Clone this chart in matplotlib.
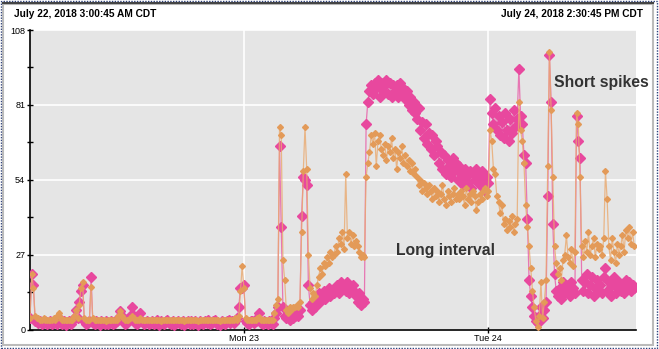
import numpy as np
import pandas as pd
import matplotlib
matplotlib.use("Agg")
import matplotlib.pyplot as plt
import matplotlib.dates as mdates
from matplotlib.patches import Rectangle

plt.rcParams['font.family'] = ['Liberation Sans', 'DejaVu Sans']

start = "2018-07-22 03:00:45"
end = "2018-07-24 14:30:45"
n_samples = 357  # one sample every 10 minutes

# long-interval series (pink), 12 samples = 2 hours per row
long_vals = [
    4, 20, 16, 3, 3.5, 2.5, 3, 2, 2.5, 3, 2, 2.5,
    3, 2, 2.5, 3, 2, 4, 2.5, 2, 3, 1.5, 2.5, 3,
    2, 3, 4, 7, 4, 10, 14, 16, 3, 2, 2.5, 3,
    19, 2.5, 2, 3, 2.5, 1.5, 3, 2.5, 2, 3, 2, 2.5,
    3, 2, 2.5, 3, 4, 6.5, 5, 3, 2, 2.5, 3, 5,
    8, 5, 2.5, 2, 3, 6, 3, 2, 2.5, 3, 2, 2.5,
    3, 2, 2.5, 3.5, 1.5, 3, 2.5, 2, 3, 3.5, 2.5, 2,
    3, 1.5, 2.5, 3, 2.5, 2, 3, 1.5, 2.5, 3, 2, 3,
    2, 3, 2.5, 1.5, 3, 2.5, 2, 3, 2.5, 3.5, 2, 2.5,
    3, 3.5, 2, 2.5, 1.5, 3, 2.5, 2, 3, 3.5, 2.5, 3,
    2.5, 3, 4, 8, 15, 15, 16, 3, 2.5, 2, 3, 3,
    2.5, 3, 4, 6, 2.5, 2, 3, 2.5, 2, 3, 2.5, 2,
    4, 6, 8, 66, 37, 8, 5, 4, 5, 3.5, 6, 4,
    5, 6, 5, 7, 41, 55, 54, 52, 16, 9, 7, 10,
    8, 11, 13, 10, 12, 14, 11, 13, 15, 12, 14, 13,
    15, 16, 13, 17, 15, 16, 14, 17, 13, 15, 16, 14,
    12, 10, 13, 9, 11, 10, 74, 82, 86, 88, 85, 89,
    87, 90, 84, 89, 86, 88, 90, 85, 89, 84, 88, 86,
    88, 84, 89, 85, 87, 83, 86, 81, 84, 79, 82, 78,
    76, 80, 72, 75, 69, 74, 67, 71, 65, 70, 63, 68,
    66, 60, 64, 58, 63, 56, 61, 59, 55, 62, 57, 60,
    54, 59, 56, 52, 58, 55, 53, 57, 51, 56, 54, 58,
    55, 52, 57, 54, 50, 55, 53, 83, 78, 74, 80, 72,
    77, 70, 75, 69, 78, 72, 68, 76, 71, 79, 73, 76,
    94, 77, 74, 63, 60, 40, 18, 12, 8, 5, 3, 2.5,
    5, 8, 4, 7, 10, 48, 99, 82, 38, 20, 14, 12,
    15, 11, 17, 13, 16, 14, 12, 17, 15, 13, 77, 68,
    62, 18, 14, 17, 20, 13, 16, 19, 12, 15, 18, 14,
    16, 13, 19, 22, 14, 17, 12, 16, 19, 13, 15, 17,
    14, 16, 13, 18, 15, 17, 14, 16, 15,
]

# short-spike series (orange)
spike_vals = [
    4, 20, 15, 5, 4, 4, 3.5, 3.5, 4, 3.5, 3.5, 3.5,
    3.5, 3.5, 4, 3.5, 5, 6, 4, 3.5, 3.5, 3.5, 3.5, 3.5,
    3.5, 3.5, 5, 7, 4, 9, 15, 17, 4, 3.5, 3.5, 3.5,
    15.5, 4, 3.5, 3.5, 3.5, 3.5, 3.5, 3.5, 3.5, 3, 3.5, 3.5,
    3.5, 3.5, 3.5, 3.5, 5, 6.5, 5, 4, 3.5, 3.5, 3.5, 4,
    5, 4, 3.5, 3.5, 3.5, 4, 3.5, 3.5, 3.5, 3.5, 3.5, 3.5,
    3.5, 3.5, 3.5, 3.5, 3.5, 3, 3.5, 3.5, 3.5, 3.5, 3.5, 3.5,
    3.5, 3.5, 3.5, 3.5, 3.5, 3.5, 3.5, 3, 3.5, 3.5, 3.5, 3.5,
    3.5, 3.5, 3.5, 3, 3.5, 3.5, 3.5, 3.5, 3.5, 3.5, 3.5, 3.5,
    3.5, 3.5, 3.5, 3.5, 3, 3.5, 3.5, 3.5, 3.5, 3.5, 3.5, 3.5,
    3.5, 4, 3.5, 5, 14, 23, 15, 4, 3.5, 3.5, 3.5, 3.5,
    3.5, 3.5, 4, 4.5, 3.5, 3.5, 3.5, 3.5, 3.5, 3.5, 3.5, 3.5,
    6, 9, 11, 73, 70, 25, 18, 7, 6, 8, 7, 8,
    8, 9, 8, 10, 35, 57, 73, 58, 27, 15, 11, 13,
    12, 16, 19, 22, 20, 24, 23, 26, 24, 28, 26, 27,
    30, 28, 33, 31, 35, 29, 56, 33, 35, 31, 34, 30,
    32, 30, 28, 26, 27, 26, 55, 60, 64, 70, 67, 71,
    59, 68, 70, 65, 63, 67, 61, 66, 64, 69, 62, 65,
    58, 64, 62, 66, 60, 63, 59, 61, 57, 60, 56, 58,
    55, 52, 54, 50, 53, 51, 49, 52, 50, 47, 51, 48,
    50, 46, 49, 52, 47, 45, 50, 48, 46, 49, 51, 47,
    49, 47, 50, 48, 45, 51, 47, 49, 46, 50, 48, 43,
    46, 49, 47, 50, 51, 48, 50, 72, 68, 58, 56, 48,
    46, 42, 45, 38, 40, 36, 39, 37, 41, 35, 38, 40,
    82, 72, 68, 60, 45, 37, 30, 22, 14, 8, 3, 1,
    5, 17, 4, 10, 18, 59, 100, 79, 55, 30, 24, 20,
    22, 18, 25, 27, 34, 26, 24, 29, 23, 28, 78, 74,
    55, 30, 26, 32, 28, 35, 27, 30, 33, 26, 31, 29,
    30, 27, 33, 57, 47, 30, 25, 33, 28, 24, 31, 27,
    30, 34, 28, 36, 33, 37, 31, 35, 30,
]

y_ticks = [0, 27, 54, 81, 108]

pink = "#e8489e"
orange = "#e39a58"

times = pd.date_range(start, periods=n_samples, freq="10min")

fig = plt.figure(figsize=(6.59, 3.49), dpi=100)
ax = fig.add_axes([30 / 659, 1 - 329.5 / 349, 606 / 659, 299.5 / 349])
ax.set_facecolor("#e5e5e5")

ax.plot(times, long_vals, color=pink, lw=0.9, alpha=0.7, zorder=3)
ax.plot(times, long_vals, ls="none", marker="D", ms=4.8, mfc=pink, mec=pink,
        zorder=3)
ax.plot(times, spike_vals, color="#eaa96f", lw=0.9, alpha=0.8, zorder=4)
ax.plot(times, spike_vals, ls="none", marker="D", ms=3, mfc=orange,
        mec=orange, zorder=4)

ax.set_xlim(pd.Timestamp(start), pd.Timestamp(end))
ax.set_ylim(0, 108)
ax.set_yticks(y_ticks)
ax.set_yticks(np.arange(0, 109, 13.5), minor=True)
ax.xaxis.set_major_locator(mdates.DayLocator())
ax.xaxis.set_major_formatter(mdates.DateFormatter("%a %d"))

ax.grid(True, color="white", lw=1.2, zorder=1)
ax.set_axisbelow(True)
for side in ["top", "right"]:
    ax.spines[side].set_visible(False)
ax.spines["left"].set_linewidth(1.2)
ax.spines["bottom"].set_linewidth(1.2)
ax.tick_params(axis="both", which="both", direction="inout", length=5,
               width=1, labelsize=6.5, colors="black", pad=1)

ax.text(0.604, 0.265, "Long interval", transform=ax.transAxes, ha="left",
        va="center", fontsize=11.3, fontweight="bold", color="#333333",
        zorder=6)
ax.text(0.865, 0.826, "Short spikes", transform=ax.transAxes, ha="left",
        va="center", fontsize=11.3, fontweight="bold", color="#333333",
        clip_on=False, zorder=6)

fig.text(14 / 659, 1 - 14 / 349, "July 22, 2018 3:00:45 AM CDT",
         fontsize=7.3, fontweight="bold", ha="left", va="center")
fig.text(643 / 659, 1 - 14 / 349, "July 24, 2018 2:30:45 PM CDT",
         fontsize=7.3, fontweight="bold", ha="right", va="center")

# window frame
fig.add_artist(Rectangle((1 / 659, 1 / 349), 656 / 659, 347 / 349,
                         transform=fig.transFigure, fill=False,
                         ec="#2b3f7a", lw=1.0, ls=(0, (1, 1))))
fig.add_artist(Rectangle((3 / 659, 4 / 349), 650 / 659, 341 / 349,
                         transform=fig.transFigure, fill=False,
                         ec="#bbbbbb", lw=1.5))
fig.add_artist(plt.Line2D([3 / 659, 653 / 659], [1 - 3 / 349, 1 - 3 / 349],
                          transform=fig.transFigure, color="#444444", lw=1.5))

fig.savefig("out.png", dpi=100)
